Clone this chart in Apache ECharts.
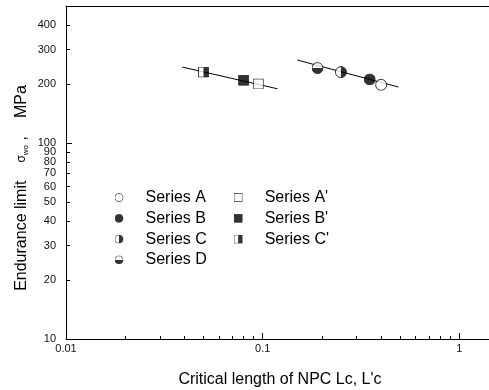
<!DOCTYPE html>
<html>
<head>
<meta charset="utf-8">
<script src="https://cdn.jsdelivr.net/npm/echarts@6/dist/echarts.min.js"></script>
<style>
html,body{margin:0;padding:0;background:#fff;overflow:hidden;}
#chart{width:489px;height:390px;}
</style>
</head>
<body>
<div id="chart"></div>
<script>
// ---- data ----
const seriesNames = ['Series A', 'Series B', 'Series C', 'Series D', "Series A'", "Series B'", "Series C'"];
const lcValues = [0.40, 0.35, 0.25, 0.19, 0.095, 0.08, 0.05];
const sigmaValues = [198, 211, 230, 241, 200, 209, 230];
const fitLeftX = [0.039, 0.119];
const fitLeftY = [244, 189];
const fitRightX = [0.15, 0.49];
const fitRightY = [265, 193];
const xMajorTicks = [0.01, 0.1, 1];
const xMinorTicks = [0.02, 0.03, 0.04, 0.05, 0.06, 0.07, 0.08, 0.09, 0.2, 0.3, 0.4, 0.5, 0.6, 0.7, 0.8, 0.9];
const yMajorTicks = [10, 100];
const yMinorTicks = [20, 30, 40, 50, 60, 70, 80, 90, 200, 300, 400];
const yTickLabels = [10, 20, 30, 40, 50, 60, 70, 80, 90, 100, 200, 300, 400];

// ---- symbols ----
function svgUri(inner) {
  const svg = "<svg xmlns='http://www.w3.org/2000/svg' width='24' height='24' viewBox='0 0 24 24'>" + inner + "</svg>";
  return 'image://data:image/svg+xml;charset=utf-8,' + encodeURIComponent(svg);
}
const circ = "<circle cx='12' cy='12' r='11' fill='white' stroke='black' stroke-width='2'/>";
const sq = "<rect x='1' y='1' width='22' height='22' fill='white' stroke='black' stroke-width='2'/>";
const symbols = [
  svgUri(circ),
  svgUri("<circle cx='12' cy='12' r='11' fill='black' stroke='black' stroke-width='2'/>"),
  svgUri(circ + "<path d='M12 1 A11 11 0 0 1 12 23 Z' fill='black'/>"),
  svgUri(circ + "<path d='M1 12 A11 11 0 0 0 23 12 Z' fill='black'/>"),
  svgUri(sq),
  svgUri("<rect x='1' y='1' width='22' height='22' fill='black' stroke='black' stroke-width='2'/>"),
  svgUri(sq + "<rect x='12' y='1' width='11' height='22' fill='black'/>")
];
const symbolSizes = [12, 12, 12, 12, 11, 11, 11];

const FONT = '"Liberation Sans", Arial, sans-serif';
const chart = echarts.init(document.getElementById('chart'));

const series = [
  {
    type: 'line', name: 'fitLeft', silent: true, showSymbol: false, symbol: 'none',
    data: fitLeftX.map((x, i) => [x, fitLeftY[i]]),
    lineStyle: { color: '#000', width: 1 }, z: 1
  },
  {
    type: 'line', name: 'fitRight', silent: true, showSymbol: false, symbol: 'none',
    data: fitRightX.map((x, i) => [x, fitRightY[i]]),
    lineStyle: { color: '#000', width: 1 }, z: 1
  }
];
seriesNames.forEach((n, i) => {
  series.push({
    type: 'scatter', name: n,
    symbol: symbols[i], symbolSize: symbolSizes[i],
    data: [[lcValues[i], sigmaValues[i]]],
    itemStyle: { color: '#000' }, z: 3
  });
});

function logAxis(extra) {
  return Object.assign({
    type: 'log', logBase: 10,
    splitLine: { show: false }, minorTick: { show: false }, minorSplitLine: { show: false },
    axisLine: { show: true, onZero: false, lineStyle: { color: '#000', width: 1 } }
  }, extra);
}

const X_MIN = 0.01, X_MAX = 1.5, Y_MIN = 10, Y_MAX = 500;

const option = {
  animation: false,
  backgroundColor: '#fff',
  grid: { left: 66, top: 6, width: 428, height: 333, show: false, containLabel: false, outerBoundsMode: 'none' },
  legend: {
    data: seriesNames,
    orient: 'vertical',
    left: 109.5, top: 184.5, height: 80,
    itemWidth: 9, itemHeight: 9, itemGap: 4.8,
    selectedMode: false,
    textStyle: { fontFamily: FONT, fontSize: 16, color: '#000', lineHeight: 16, padding: [0, 22, 0, 17] }
  },
  xAxis: [
    logAxis({
      min: X_MIN, max: X_MAX, position: 'bottom',
      name: "Critical length of NPC Lc, L'c", nameLocation: 'middle', nameGap: 33,
      nameTextStyle: { fontFamily: FONT, fontSize: 16, color: '#000' },
      axisTick: { show: true, inside: true, length: 6, customValues: xMajorTicks, lineStyle: { color: '#000' } },
      axisLabel: { show: true, customValues: xMajorTicks, margin: 4, fontFamily: FONT, fontSize: 11, color: '#111',
        formatter: v => String(v) }
    }),
    logAxis({
      min: X_MIN, max: X_MAX, position: 'bottom',
      axisLine: { show: false },
      axisTick: { show: true, inside: true, length: 3, customValues: xMinorTicks, lineStyle: { color: '#000' } },
      axisLabel: { show: false }
    }),
    logAxis({
      min: X_MIN, max: X_MAX, position: 'top',
      axisTick: { show: false },
      axisLabel: { show: false }
    })
  ],
  yAxis: [
    logAxis({
      min: Y_MIN, max: Y_MAX, position: 'left',
      axisTick: { show: true, inside: true, length: 6, customValues: yMajorTicks, lineStyle: { color: '#000' } },
      axisLabel: { show: true, customValues: yTickLabels, margin: 10, fontFamily: FONT, fontSize: 11, color: '#111',
        formatter: v => String(v) }
    }),
    logAxis({
      min: Y_MIN, max: Y_MAX, position: 'left',
      axisLine: { show: false },
      axisTick: { show: true, inside: true, length: 4, customValues: yMinorTicks, lineStyle: { color: '#000' } },
      axisLabel: { show: false }
    })
  ],
  graphic: [
    {
      type: 'text', x: 22, y: 188, rotation: Math.PI / 2,
      style: {
        text: '{a|Endurance limit}{s|σ}{sub|wo}{c| ,}{a|MPa}',
        align: 'center', verticalAlign: 'middle',
        fill: '#000',
        rich: {
          a: { fontFamily: FONT, fontSize: 16, fill: '#000' },
          s: { fontFamily: FONT, fontSize: 12, fill: '#000', padding: [0, 0, 0, 18] },
          sub: { fontFamily: FONT, fontSize: 8, fill: '#000', verticalAlign: 'bottom' },
          c: { fontFamily: FONT, fontSize: 16, fill: '#000', padding: [0, 18, 0, 0] }
        }
      }
    }
  ],
  series: series
};
chart.setOption(option);
</script>
</body>
</html>
